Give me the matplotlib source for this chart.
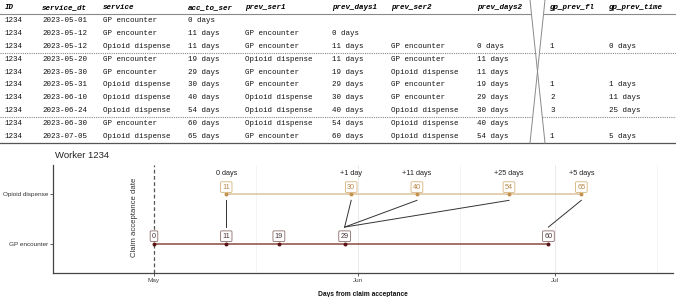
import numpy as np
import matplotlib.pyplot as plt
import matplotlib.dates as mdates
import datetime as dt

# ---- table data ----
ids = ["1234"] * 10
service_dt = ["2023-05-01", "2023-05-12", "2023-05-12", "2023-05-20", "2023-05-30",
              "2023-05-31", "2023-06-10", "2023-06-24", "2023-06-30", "2023-07-05"]
service = ["GP encounter", "GP encounter", "Opioid dispense", "GP encounter", "GP encounter",
           "Opioid dispense", "Opioid dispense", "Opioid dispense", "GP encounter", "Opioid dispense"]
acc_to_ser = ["0 days", "11 days", "11 days", "19 days", "29 days",
              "30 days", "40 days", "54 days", "60 days", "65 days"]
prev_ser1 = ["", "GP encounter", "GP encounter", "Opioid dispense", "GP encounter",
             "GP encounter", "Opioid dispense", "Opioid dispense", "Opioid dispense", "GP encounter"]
prev_days1 = ["", "0 days", "11 days", "11 days", "19 days",
              "29 days", "30 days", "40 days", "54 days", "60 days"]
prev_ser2 = ["", "", "GP encounter", "GP encounter", "Opioid dispense",
             "GP encounter", "GP encounter", "Opioid dispense", "Opioid dispense", "Opioid dispense"]
prev_days2 = ["", "", "0 days", "11 days", "11 days",
              "19 days", "29 days", "30 days", "40 days", "54 days"]
gp_prev_fl = ["", "", "1", "", "", "1", "2", "3", "", "1"]
gp_prev_time = ["", "", "0 days", "", "", "1 days", "11 days", "25 days", "", "5 days"]

headers = ["ID", "service_dt", "service", "acc_to_ser", "prev_ser1", "prev_days1",
           "prev_ser2", "prev_days2", "gp_prev_fl", "gp_prev_time"]
columns = [ids, service_dt, service, acc_to_ser, prev_ser1, prev_days1,
           prev_ser2, prev_days2, gp_prev_fl, gp_prev_time]
col_x = [5, 42, 103, 188, 245, 332, 391, 477, 550, 609]

# ---- timeline data ----
claim_date = dt.date(2023, 5, 1)
gp_days = [0, 11, 19, 29, 60]
op_days = [11, 30, 40, 54, 65]
link_from = [11, 30, 40, 54, 65]   # opioid dispense day
link_to = [11, 29, 29, 29, 60]     # previous GP encounter day
gap_text = ["0 days", "+1 day", "+11 days", "+25 days", "+5 days"]

W, H = 676, 297
fig = plt.figure(figsize=(W / 100, H / 100), dpi=100)

# ================= table =================
ax_t = fig.add_axes([0, 1 - 145 / H, 1, 145 / H])
ax_t.set_xlim(0, W)
ax_t.set_ylim(145, 0)
ax_t.axis("off")

mono = "Liberation Mono"
fs = 5.4
for x, h in zip(col_x, headers):
    ax_t.text(x, 7.5, h, fontfamily=mono, fontsize=fs, fontweight="bold",
              fontstyle="italic", va="center", ha="left", color="#000000")

row_y = [21 + 12.8 * i for i in range(10)]
for col, x in zip(columns, col_x):
    for y, v in zip(row_y, col):
        ax_t.text(x, y, v, fontfamily=mono, fontsize=fs, va="center", ha="left",
                  color="#111111")


def x_break(y):
    a = 530 + 15 * y / 143
    b = 545 - 15 * y / 143
    return min(a, b), max(a, b)


def hline(y, **kw):
    lo, hi = x_break(y)
    ax_t.plot([0, lo], [y, y], **kw)
    ax_t.plot([hi, W], [y, y], **kw)


hline(14, color="#8a8a8a", lw=0.8)
hline(52.5, color="#8a8a8a", lw=0.8, ls=(0, (1, 1)))
hline(117, color="#8a8a8a", lw=0.8, ls=(0, (1, 1)))
ax_t.plot([0, W], [143, 143], color="#555555", lw=0.9)
ax_t.plot([530, 545], [0, 143], color="#8a8a8a", lw=0.7)
ax_t.plot([545, 530], [0, 143], color="#8a8a8a", lw=0.7)

# ================= timeline =================
ax = fig.add_axes([53 / W, (H - 273) / H, (673 - 53) / W, (273 - 165) / H])

to_date = lambda d: mdates.date2num(claim_date + dt.timedelta(days=d))
gp_x = [to_date(d) for d in gp_days]
op_x = [to_date(d) for d in op_days]
y_gp, y_op = 1, 2

ax.set_xlim(to_date(0) - 15.36, to_date(0) + 78.95)
ax.set_ylim(0.4, 2.6)

# grid
for d in [dt.date(2023, 6, 1), dt.date(2023, 7, 1)]:
    ax.axvline(mdates.date2num(d), color="#ebebeb", lw=0.7, zorder=0)
for d in [dt.date(2023, 5, 16), dt.date(2023, 6, 16), dt.date(2023, 7, 16)]:
    ax.axvline(mdates.date2num(d) + 0.5, color="#f3f3f3", lw=0.6, zorder=0)

ax.axvline(to_date(0), color="#555555", lw=0.9, ls=(0, (3, 2)), zorder=1)
ax.text(to_date(0) - 2.9, 1.54, "Claim acceptance date", rotation=90,
        fontfamily="Liberation Sans", fontsize=5.6, color="#333333",
        ha="center", va="center")

op_line_c = "#dcc39c"
op_pt_c = "#c4914d"
gp_line_c = "#8b4a44"
gp_pt_c = "#5a1414"

ax.plot([op_x[0], op_x[-1]], [y_op, y_op], color=op_line_c, lw=1.1, zorder=2)
ax.plot([gp_x[0], gp_x[-1]], [y_gp, y_gp], color=gp_line_c, lw=1.1, zorder=2)
ax.scatter(op_x, [y_op] * len(op_x), s=8, color=op_pt_c, zorder=3, linewidths=0)
ax.scatter(gp_x, [y_gp] * len(gp_x), s=8, color=gp_pt_c, zorder=3, linewidths=0)

for x, d in zip(op_x, op_days):
    ax.text(x, y_op + 0.15, str(d), fontfamily="Liberation Sans", fontsize=5.2,
            color="#b88748", ha="center", va="center", zorder=4,
            bbox=dict(boxstyle="round,pad=0.25,rounding_size=0.15",
                      fc="white", ec="#d6b27a", lw=0.6))
for x, d in zip(gp_x, gp_days):
    ax.text(x, y_gp + 0.15, str(d), fontfamily="Liberation Sans", fontsize=5.2,
            color="#4a3535", ha="center", va="center", zorder=4,
            bbox=dict(boxstyle="round,pad=0.25,rounding_size=0.15",
                      fc="white", ec="#8a6d68", lw=0.6))

for f, t, g in zip(link_from, link_to, gap_text):
    ax.plot([to_date(f), to_date(t)], [1.88, 1.335], color="#333333", lw=0.7, zorder=3)
    ax.text(to_date(f), 2.42, g, fontfamily="Liberation Sans", fontsize=5.2,
            color="#222222", ha="center", va="center")

ax.set_yticks([y_gp, y_op])
ax.set_yticklabels(["GP encounter", "Opioid dispense"], fontfamily="Liberation Sans",
                   fontsize=4.6, color="#333333")
ax.set_xticks([mdates.date2num(dt.date(2023, m, 1)) for m in (5, 6, 7)])
ax.set_xticklabels(["May", "Jun", "Jul"], fontfamily="Liberation Sans",
                   fontsize=4.6, color="#444444")
ax.tick_params(axis="both", length=2, width=0.6, color="#444444", pad=1.5)
for s in ["top", "right"]:
    ax.spines[s].set_visible(False)
for s in ["left", "bottom"]:
    ax.spines[s].set_color("#444444")
    ax.spines[s].set_linewidth(0.9)

ax.set_xlabel("Days from claim acceptance", fontfamily="Liberation Sans",
              fontsize=4.8, fontweight="bold", color="#111111", labelpad=6)
fig.text(55 / W, 1 - 155 / H, "Worker 1234", fontfamily="Liberation Sans",
         fontsize=6.8, color="#222222", ha="left", va="center")

fig.savefig("out.png", dpi=100)
